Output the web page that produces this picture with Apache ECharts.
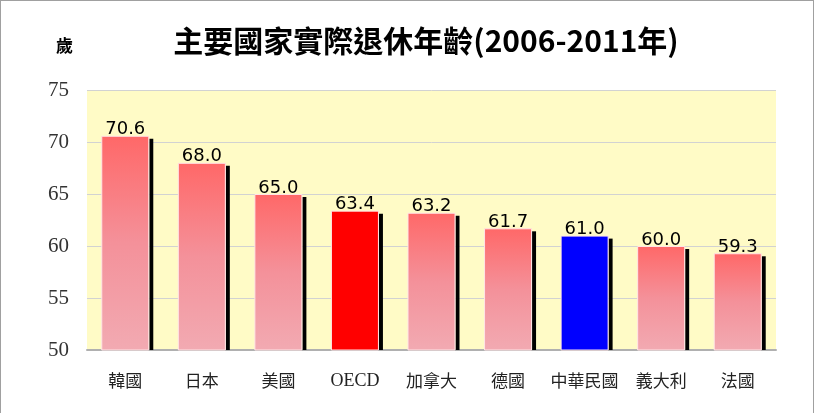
<!DOCTYPE html>
<html><head><meta charset="utf-8">
<script src="https://cdn.jsdelivr.net/npm/echarts@6/dist/echarts.min.js"></script>
<style>html,body{margin:0;padding:0;background:#fff}#c{width:814px;height:413px;box-sizing:border-box;border:1px solid #a0a0a0;border-bottom:none}</style>
</head><body><div id="c"></div>
<script>
const categories = ['韓國','日本','美國','OECD','加拿大','德國','中華民國','義大利','法國'];
const values = [70.6, 68.0, 65.0, 63.4, 63.2, 61.7, 61.0, 60.0, 59.3];
const yTicks = [50, 55, 60, 65, 70, 75];
const titleText = '主要國家實際退休年齡(2006-2011年)';
const unitText = '歲';

const pinkGrad = new echarts.graphic.LinearGradient(0,0,0,1,[{offset:0,color:'#ff6868'},{offset:0.5,color:'#f4919a'},{offset:1,color:'#f2aab2'}]);
const special = {'OECD':'#ff0000','中華民國':'#0000ff'};
const BW = 48;
const chart = echarts.init(document.getElementById('c'));
chart.setOption({
  animation:false,
  title:{text:titleText,left:420,top:20,textAlign:'center',textStyle:{fontFamily:'Noto Sans CJK TC',fontSize:30,fontWeight:'bold',color:'#000'}},
  graphic:[{type:'text',left:55,top:36,style:{text:unitText,font:'bold 17px "Noto Sans CJK TC"',fill:'#000'}}],
  grid:{left:86,right:37,top:89,bottom:63,backgroundColor:'#fffbc6',show:true,borderWidth:0},
  xAxis:{type:'category',data:categories,axisTick:{show:false},axisLine:{lineStyle:{color:'#b0b0b0',width:2}},
    axisLabel:{interval:0,margin:22,fontSize:17,color:'#222',fontFamily:'Noto Sans CJK TC',
      formatter:v=>v==='OECD'?'{s|OECD}':v,rich:{s:{fontFamily:'Liberation Serif',fontSize:18,color:'#222'}}}},
  yAxis:{type:'value',min:yTicks[0],max:yTicks[yTicks.length-1],interval:5,
    axisLine:{show:false},axisTick:{show:false},
    splitLine:{lineStyle:{color:'#d2d2d2',width:1}},
    axisLabel:{margin:18,fontSize:21,color:'#333',fontFamily:'Liberation Serif'}},
  series:[
  {type:'custom',z:1,data:values.map((v,i)=>[i,v]),
    renderItem:(params,api)=>{
      const top = api.coord([api.value(0),api.value(1)]);
      const base = api.coord([api.value(0),yTicks[0]]);
      return {type:'rect',shape:{x:top[0]+BW/2,y:top[1]+3,width:4,height:base[1]-top[1]-3},style:{fill:'#000'}};
    }},
  {type:'bar',barWidth:BW,z:2,
    data:values.map((v,i)=>({value:v,itemStyle:{color:special[categories[i]]||pinkGrad}})),
    itemStyle:{borderColor:'#ffe4e6',borderWidth:1},
    label:{show:true,position:'top',distance:-3,formatter:p=>p.value.toFixed(1),fontFamily:'DejaVu Sans',fontSize:18,color:'#000'}
  }]
});
</script></body></html>
